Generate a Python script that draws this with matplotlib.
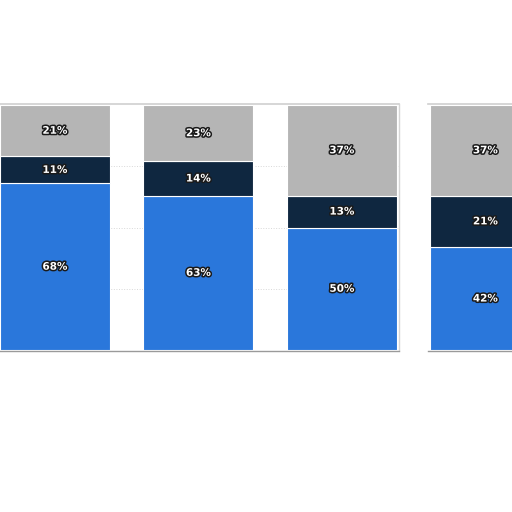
import numpy as np
import matplotlib
matplotlib.use('Agg')
import matplotlib.pyplot as plt
import matplotlib.patheffects as pe

# shares per bar, bottom to top
blue_share = [68, 63, 50, 42]
navy_share = [11, 14, 13, 21]
gray_share = [21, 23, 37, 37]

blue = '#2a77db'
navy = '#0f2740'
gray = '#b5b5b5'

fig = plt.figure(figsize=(5.12, 5.12), dpi=100)
fig.patch.set_facecolor('white')
ax = fig.add_axes([0, 162 / 512, 1, 245 / 512])

x = np.arange(len(blue_share))
w = 0.767
bottom2 = np.array(blue_share)
bottom3 = bottom2 + np.array(navy_share)

ax.bar(x, blue_share, w, color=blue, edgecolor='white', linewidth=0.8, zorder=3)
ax.bar(x, navy_share, w, bottom=bottom2, color=navy, edgecolor='white', linewidth=0.8, zorder=3)
ax.bar(x, gray_share, w, bottom=bottom3, color=gray, edgecolor='white', linewidth=0.8, zorder=3)

outline = [pe.withStroke(linewidth=2.2, foreground='#1a1a1a')]
for i in range(len(x)):
    segs = [(0, blue_share[i]), (bottom2[i], navy_share[i]), (bottom3[i], gray_share[i])]
    for b, v in segs:
        ax.text(x[i], b + v / 2, str(v) + '%', ha='center', va='center',
                color='white', fontsize=7.5, fontweight='bold', path_effects=outline, zorder=5)

ax.set_xlim(-0.383, 3.185)
ax.set_ylim(0, 100)
# dotted grid only inside the first panel
for gy in [25, 50, 75]:
    ax.plot([-0.383, 2.395], [gy, gy], color='#d8d8d8', linestyle=':', linewidth=0.7, zorder=1)

# panel border around first three bars
ax.plot([-0.383, 2.395], [100.6, 100.6], color='#cfcfcf', linewidth=1.2, clip_on=False, zorder=2)
ax.plot([2.395, 2.395], [0, 100.6], color='#d6d6d6', linewidth=1.0, clip_on=False, zorder=2)
ax.plot([-0.383, 2.395], [-0.4, -0.4], color='#9a9a9a', linewidth=1.0, clip_on=False, zorder=2)
ax.plot([2.60, 3.185], [100.6, 100.6], color='#cfcfcf', linewidth=1.2, clip_on=False, zorder=2)
ax.plot([2.60, 3.185], [-0.4, -0.4], color='#9a9a9a', linewidth=1.0, clip_on=False, zorder=2)

ax.axis('off')
fig.savefig('out.png', dpi=100, facecolor='white')
